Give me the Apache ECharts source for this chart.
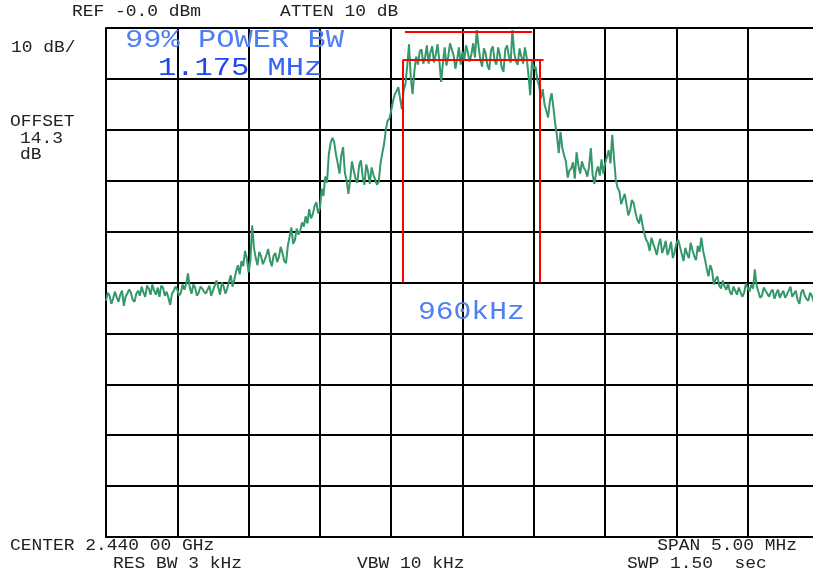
<!DOCTYPE html>
<html>
<head>
<meta charset="utf-8">
<script src="https://cdn.jsdelivr.net/npm/echarts@6/dist/echarts.min.js"></script>
<style>
  html, body { margin: 0; padding: 0; background: #ffffff; overflow: hidden; }
  /* the graticule runs a little past the right edge of the window */
  #chart { width: 840px; height: 575px; }
</style>
</head>
<body>
<div id="chart"></div>
<script>
// Sweep: offset from centre frequency in kHz, level in dBm
const sweepStartKHz = -2500;
const sweepStepKHz = 12.5;
const traceLevelsDbm = [
  -53.6, -52.0, -52.6, -54.2, -53.2, -51.8, -52.9, -53.8, -52.4, -51.6, -54.6, -52.8, -53.0, -51.4, -52.0, -53.4, -53.8, -52.2, -51.6,
  -52.6, -50.8, -52.0, -52.8, -50.6, -51.2, -52.4, -50.4, -51.6, -52.4, -51.0, -52.8, -50.6, -51.0, -52.6, -51.8, -53.0, -54.4, -52.2, -51.6,
  -50.8, -51.4, -52.6, -52.0, -50.4, -51.4, -50.2, -48.2, -51.0, -52.2, -50.4, -51.0, -52.6, -52.0, -50.8, -51.2, -51.8, -52.2, -51.4, -50.6,
  -52.6, -51.6, -50.6, -49.6, -51.0, -52.4, -50.0, -50.8, -52.2, -51.2, -49.8, -48.6, -50.8, -49.4, -47.8, -46.6, -48.4, -45.8, -46.8, -43.8,
  -45.2, -48.0, -45.6, -38.8, -43.2, -45.2, -46.6, -44.0, -44.8, -46.4, -45.6, -44.6, -43.4, -45.6, -46.8, -44.8, -44.2, -46.0, -45.0, -43.0,
  -44.2, -45.8, -46.2, -42.8, -41.0, -39.2, -42.4, -41.6, -39.4, -40.6, -39.8, -38.2, -39.0, -37.0, -38.4, -35.6, -37.4, -36.6, -35.0, -34.2,
  -36.4, -35.4, -31.6, -33.0, -29.2, -30.4, -24.8, -22.6, -21.6, -22.4, -24.8, -26.6, -28.6, -25.0, -23.4, -28.4, -30.0, -32.6, -29.8, -26.2,
  -28.0, -29.6, -30.4, -27.0, -26.0, -29.2, -30.8, -26.8, -28.2, -30.6, -27.4, -28.8, -29.8, -30.8, -30.2, -26.6, -24.6, -22.8, -20.0, -18.2,
  -17.8, -16.2, -14.4, -13.0, -12.4, -11.6, -13.8, -16.0, -12.2, -11.0, -7.4, -3.2, -9.8, -13.0, -8.4, -5.6, -7.2, -4.6, -4.2, -7.0,
  -5.8, -3.4, -7.0, -4.8, -3.6, -6.8, -5.2, -3.2, -6.4, -10.6, -7.0, -3.8, -7.4, -5.6, -3.0, -4.2, -5.4, -8.0, -6.2, -3.8,
  -7.2, -4.6, -6.2, -3.4, -4.8, -6.6, -5.2, -3.0, -5.8, -0.4, -3.6, -6.2, -7.6, -4.0, -5.0, -7.4, -8.2, -4.4, -3.6, -6.4,
  -7.2, -3.8, -5.4, -7.8, -8.6, -4.2, -3.4, -5.6, -6.8, -0.4, -4.8, -6.6, -7.2, -4.0, -5.6, -7.0, -3.8, -5.8, -9.2, -13.2,
  -6.4, -8.0, -7.6, -10.2, -11.4, -13.8, -12.0, -15.0, -16.2, -17.6, -14.4, -12.8, -15.6, -18.8, -21.2, -24.6, -20.4, -23.6, -25.0, -26.2,
  -29.4, -28.0, -27.6, -26.4, -29.6, -24.4, -27.0, -28.6, -26.2, -27.4, -28.0, -29.2, -27.2, -23.6, -28.8, -30.6, -28.4, -27.2, -29.0, -25.8,
  -28.6, -26.6, -25.4, -24.0, -26.6, -21.0, -25.6, -29.8, -31.4, -32.0, -34.6, -33.6, -32.6, -34.6, -36.8, -35.8, -33.8, -34.4, -36.2, -37.6,
  -38.4, -36.6, -38.8, -40.4, -41.6, -42.2, -43.8, -41.2, -42.4, -43.4, -44.6, -42.6, -41.4, -44.2, -43.2, -41.8, -44.6, -43.6, -42.0, -45.2,
  -44.0, -42.4, -41.6, -43.0, -44.4, -45.8, -43.2, -44.4, -45.2, -42.2, -43.6, -44.8, -45.6, -42.8, -44.0, -41.2, -43.8, -45.4, -47.2, -48.8,
  -46.6, -47.6, -50.4, -49.4, -48.8, -50.6, -51.2, -49.6, -50.8, -51.4, -50.2, -51.8, -52.4, -50.8, -51.6, -52.4, -51.0, -51.2, -52.8, -52.0,
  -50.2, -51.0, -51.8, -50.4, -51.2, -47.4, -50.6, -51.8, -53.0, -52.6, -51.0, -51.6, -52.2, -52.8, -51.8, -51.4, -53.2, -52.2, -51.4, -53.0,
  -52.2, -51.6, -53.0, -52.4, -51.6, -50.8, -52.8, -52.2, -51.6, -53.4, -54.2, -52.0, -51.4, -52.6, -53.2, -53.6, -52.0, -52.6, -53.8, -53.0, -51.8, -52.4
];

// Display scale
const spanKHz = [-2500, 2500];
const kHzPerDiv = 500;
const levelRangeDbm = [-100, 0];
const dbPerDiv = 10;

// Bandwidth bracket (960 kHz wide) and peak line
const bwEdgesKHz = [-420, 540];
const bwBracketOverhangKHz = 28;
const bwLevelDbm = -6.3;
const bwFloorDbm = -50;
const peakLineKHz = [-403, 488];
const peakLineDbm = -0.7;

// Annotation texts
const headerTexts = ['REF -0.0 dBm', 'ATTEN 10 dB'];
const scaleTexts = ['10 dB/', 'OFFSET', '14.3', 'dB'];
const footerTexts = ['CENTER 2.440 00 GHz', 'SPAN 5.00 MHz', 'RES BW 3 kHz', 'VBW 10 kHz', 'SWP 1.50  sec'];
const powerBwTitle = '99% POWER BW';
const powerBwValue = '1.175';
const powerBwUnit = 'MHz';
const bwLabel = '960kHz';

const traceData = traceLevelsDbm.map((v, i) => [sweepStartKHz + i * sweepStepKHz, v]);

const MONO = '"Liberation Mono", "DejaVu Sans Mono", monospace';
const BLACK_TEXT = '#222222';
const LIGHT_BLUE = '#4f7ff2';
const DEEP_BLUE = '#1f44f2';

function label(text, x, y, opts) {
  opts = opts || {};
  return {
    type: 'text',
    x: x,
    y: y,
    scaleX: opts.scaleX || 1.12,
    silent: true,
    z: 100,
    style: {
      text: text,
      fill: opts.color || BLACK_TEXT,
      font: (opts.size || 16) + 'px ' + MONO,
      align: opts.align || 'left',
      verticalAlign: 'middle',
      rich: opts.rich
    }
  };
}

const chart = echarts.init(document.getElementById('chart'), null, { renderer: 'canvas' });

const gridLine = { show: true, lineStyle: { color: '#000000', width: 2 } };

chart.setOption({
  animation: false,
  backgroundColor: '#ffffff',
  grid: { left: 106, top: 28, width: 713, height: 509, containLabel: false },
  xAxis: {
    type: 'value',
    min: spanKHz[0],
    max: spanKHz[1],
    interval: kHzPerDiv,
    axisLabel: { show: false },
    axisTick: { show: false },
    axisLine: { show: true, onZero: false, lineStyle: { color: '#000000', width: 2 } },
    splitLine: gridLine
  },
  yAxis: {
    type: 'value',
    min: levelRangeDbm[0],
    max: levelRangeDbm[1],
    interval: dbPerDiv,
    axisLabel: { show: false },
    axisTick: { show: false },
    axisLine: { show: true, onZero: false, lineStyle: { color: '#000000', width: 2 } },
    splitLine: gridLine
  },
  series: [
    {
      type: 'line',
      data: traceData,
      showSymbol: false,
      clip: false,
      z: 3,
      lineStyle: { color: '#34986a', width: 2 },
      markLine: {
        silent: true,
        symbol: ['none', 'none'],
        label: { show: false },
        lineStyle: { color: '#ff0000', width: 2, type: 'solid' },
        data: [
          [{ coord: [peakLineKHz[0], peakLineDbm] }, { coord: [peakLineKHz[1], peakLineDbm] }],
          [{ coord: [bwEdgesKHz[0], bwLevelDbm] }, { coord: [bwEdgesKHz[1] + bwBracketOverhangKHz, bwLevelDbm] }],
          [{ coord: [bwEdgesKHz[0], bwFloorDbm] }, { coord: [bwEdgesKHz[0], bwLevelDbm] }],
          [{ coord: [bwEdgesKHz[1], bwFloorDbm] }, { coord: [bwEdgesKHz[1], bwLevelDbm] }]
        ]
      }
    }
  ],
  graphic: [
    label(headerTexts[0], 72, 12),
    label(headerTexts[1], 280, 12),
    label(scaleTexts[0], 11, 48),
    label(scaleTexts[1], 10, 122),
    label(scaleTexts[2], 20, 139),
    label(scaleTexts[3], 20, 155),
    label(footerTexts[0], 10, 546),
    label(footerTexts[1], 797, 546, { align: 'right' }),
    label(footerTexts[2], 113, 564),
    label(footerTexts[3], 357, 564),
    label(footerTexts[4], 627, 564),
    label(powerBwTitle, 125, 40, { size: 26, scaleX: 1.17, color: LIGHT_BLUE }),
    label('{v|' + powerBwValue + '} {u|' + powerBwUnit + '}', 158, 68, {
      size: 26, scaleX: 1.17, color: DEEP_BLUE,
      rich: {
        v: { fill: DEEP_BLUE, font: '26px ' + MONO },
        u: { fill: '#3563f4', font: '26px ' + MONO }
      }
    }),
    label(bwLabel, 418, 312, { size: 26, scaleX: 1.14, color: LIGHT_BLUE })
  ]
});
</script>
</body>
</html>
